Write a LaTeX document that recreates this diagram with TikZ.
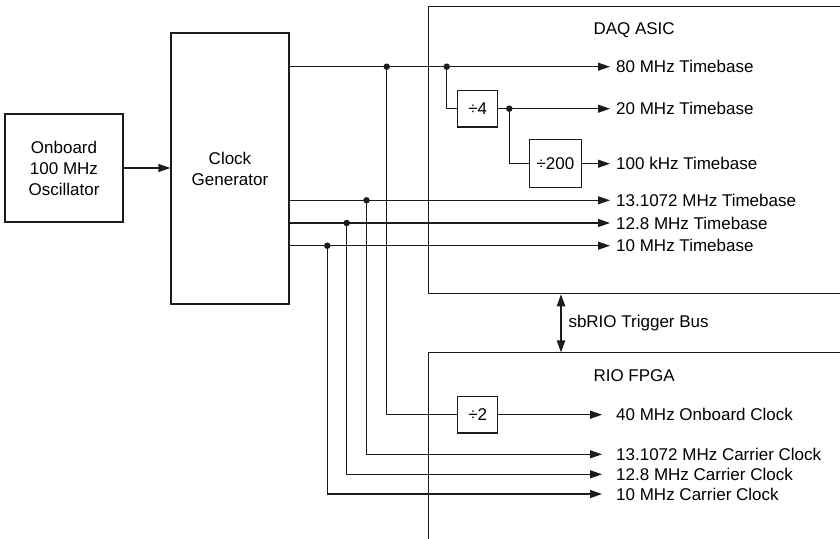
\documentclass[tikz,border=0pt]{standalone}
\usepackage{fontspec}
\setmainfont{Liberation Sans}
\usetikzlibrary{arrows.meta}
\definecolor{wireblack}{HTML}{1C1C1C}
\tikzset{
  block/.style={draw=wireblack,line width=1.1pt,fill=white,align=center,inner sep=0pt},
  chip/.style={draw=wireblack,line width=1.1pt,anchor=north west,inner sep=0pt},
  wire/.style={draw=wireblack,line width=1.1pt},
  signal/.style={wire,-{Triangle[length=12pt,width=8pt]}},
  junction/.style={circle,fill=wireblack,inner sep=0pt,minimum size=6.5pt},
  outlabel/.style={anchor=west,inner sep=0pt,text height=12.2pt,text depth=0pt},
  daq out/.style={outlabel,inner xsep=6pt},
  fpga out/.style={outlabel,inner xsep=14pt}
}

\begin{document}
\begin{tikzpicture}[x=1pt,y=-1pt,font=\fontsize{17}{21}\selectfont]
  \useasboundingbox (0,0) rectangle (840,538);
  \node[chip,minimum width=480pt,minimum height=287.3pt] (daq) at (427.5,6) {};
  \node[chip,minimum width=480pt,minimum height=250pt] (fpga) at (427.5,352.3) {};
  \node[outlabel] (daqname) at (593.3,28.3) {DAQ ASIC};
  \node[outlabel] (fpganame) at (593.3,375) {RIO FPGA};

  \node[block,minimum width=118pt,minimum height=108pt] (osc) at (64,168) {Onboard\\100 MHz\\Oscillator};
  \node[block,minimum width=118pt,minimum height=271pt] (clkgen) at (230,168.5) {Clock\\Generator};
  \draw[signal] (osc.east) -- (osc.east -| clkgen.west);

  \node[daq out] (t80) at (610,66.7) {80 MHz Timebase};
  \node[daq out] (t20) at (610,108.7) {20 MHz Timebase};
  \node[daq out] (t100k) at (610,163.7) {100 kHz Timebase};
  \node[daq out] (t131) at (610,200.3) {13.1072 MHz Timebase};
  \node[daq out] (t128) at (610,223) {12.8 MHz Timebase};
  \node[daq out] (t10) at (610,245.7) {10 MHz Timebase};
  \node[fpga out] (c40) at (602,414.7) {40 MHz Onboard Clock};
  \node[fpga out] (c131) at (602,454.3) {13.1072 MHz Carrier Clock};
  \node[fpga out] (c128) at (602,474.3) {12.8 MHz Carrier Clock};
  \node[fpga out] (c10) at (602,494) {10 MHz Carrier Clock};

  \node[block,minimum width=40pt,minimum height=36.6pt] (div4) at (477.7,108.7) {÷4};
  \node[block,minimum width=52pt,minimum height=48pt] (div200) at (555.5,163.7) {÷200};
  \node[block,minimum width=40pt,minimum height=36.6pt] (div2) at (477.7,414.7) {÷2};

  \node[junction] (j80) at (386.7,66.7) {};
  \node[junction] (j80d) at (446.7,66.7) {};
  \node[junction] (j20) at (509.3,108.7) {};
  \node[junction] (j131) at (366.5,200.3) {};
  \node[junction] (j128) at (346.7,223) {};
  \node[junction] (j10) at (327.3,245.7) {};

  \draw[signal] (clkgen.east |- t80.west) -- (t80.west);
  \draw[wire] (j80d.center) |- (div4.west);
  \draw[signal] (div4.east) -- (t20.west);
  \draw[wire] (j20.center) |- (div200.west);
  \draw[signal] (div200.east) -- (t100k.west);
  \draw[signal] (clkgen.east |- t131.west) -- (t131.west);
  \draw[signal] (clkgen.east |- t128.west) -- (t128.west);
  \draw[signal] (clkgen.east |- t10.west) -- (t10.west);

  \draw[wire] (j80.center) |- (div2.west);
  \draw[signal] (div2.east) -- (c40.west);
  \draw[signal] (j131.center) |- (c131.west);
  \draw[signal] (j128.center) |- (c128.west);
  \draw[signal] (j10.center) |- (c10.west);

  \coordinate (bus) at (561,322);
  \draw[wire,{Triangle[length=12pt,width=8.5pt]}-{Triangle[length=12pt,width=8.5pt]}] (bus |- daq.south) -- (bus |- fpga.north);
  \node[outlabel] (buslbl) at (568.3,321.7) {sbRIO Trigger Bus};
\end{tikzpicture}
\end{document}
